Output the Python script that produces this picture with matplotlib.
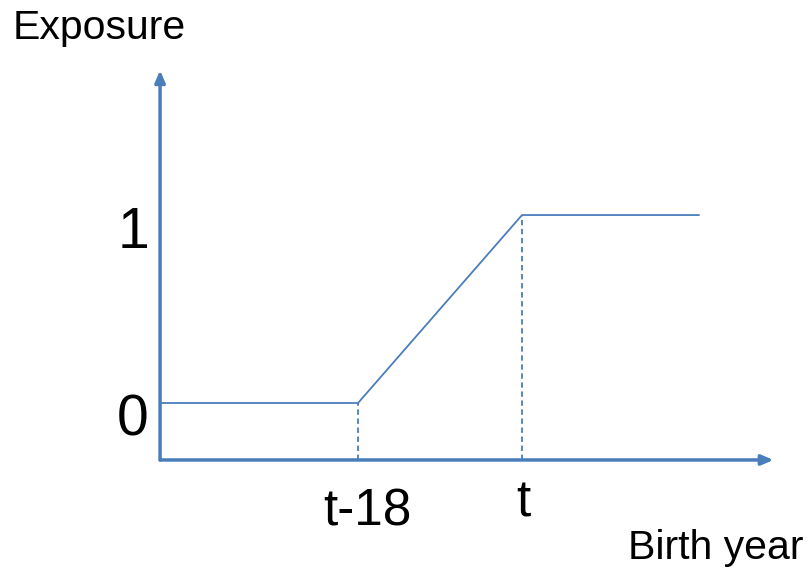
import matplotlib
matplotlib.use("Agg")
import matplotlib.pyplot as plt

# birth year relative to t, exposure level
birth_year = [-39.7, -18, 0, 19.5]
exposure = [0, 0, 1, 1]
tick_years = [-18, 0]
tick_labels = ["t-18", "t"]
level_values = [0, 1]
level_labels = ["0", "1"]

blue = "#4a7ebb"
plt.rcParams["font.family"] = ["Liberation Sans", "DejaVu Sans"]

fig = plt.figure(figsize=(8.12, 5.72), dpi=100)
ax = fig.add_axes([0, 0, 1, 1])
ax.set_xlim(-57.3, 31.83)
ax.set_ylim(-0.899, 2.144)
ax.axis("off")

x0, y0 = -39.73, -0.303

# axes with arrows
ax.annotate("", xy=(27.6, y0), xytext=(x0, y0),
            arrowprops=dict(arrowstyle="-|>,head_length=0.7,head_width=0.3", color=blue, lw=2.5,
                            shrinkA=0, shrinkB=0))
ax.annotate("", xy=(x0, 1.77), xytext=(x0, y0),
            arrowprops=dict(arrowstyle="-|>,head_length=0.7,head_width=0.3", color=blue, lw=2.5,
                            shrinkA=0, shrinkB=0))

# exposure curve
ax.plot(birth_year, exposure, color=blue, lw=1.3, solid_capstyle="butt")

# dashed guides
for yr, lv in zip(tick_years, [0, 1]):
    ax.plot([yr, yr], [y0, lv], color=blue, lw=1.3, ls=(0, (3, 2)))

# labels
for lv, lab in zip(level_values, level_labels):
    ax.text(-42.7, lv - 0.175, lab, fontsize=41, ha="center", va="baseline")
ax.text(tick_years[0] + 1.0, -0.649, tick_labels[0], fontsize=37, ha="center", va="baseline")
ax.text(tick_years[1] + 0.16, -0.606, tick_labels[1], fontsize=37, ha="center", va="baseline")
ax.text(-55.9, 1.936, "Exposure", fontsize=29.5, ha="left", va="baseline")
ax.text(11.6, -0.83, "Birth year", fontsize=29.5, ha="left", va="baseline")

fig.savefig("out.png", dpi=100, facecolor="white")
